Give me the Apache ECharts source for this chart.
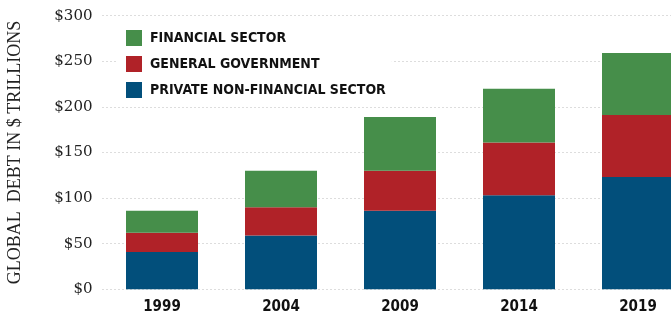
<!DOCTYPE html>
<html>
<head>
<meta charset="utf-8">
<script src="https://cdn.jsdelivr.net/npm/echarts@6/dist/echarts.min.js"></script>
<style>
html,body{margin:0;padding:0;background:#fff;}
#c{width:671px;height:317px;}
</style>
</head>
<body>
<div id="c"></div>
<script>
const years = ['1999', '2004', '2009', '2014', '2019'];
const privateNonFin = [41, 59, 86, 103, 123];
const generalGov = [21, 31, 44, 58, 68];
const financial = [24, 40, 59, 59, 68];
const yTicks = [0, 50, 100, 150, 200, 250, 300];

const condensed = "'DejaVu Sans Condensed', 'Liberation Sans Narrow', sans-serif";
const serif = "'DejaVu Serif', 'Liberation Serif', serif";
const titleSerif = "'Liberation Serif', 'DejaVu Serif', serif";

const chart = echarts.init(document.getElementById('c'), null, {renderer: 'canvas'});
chart.setOption({
  animation: false,
  backgroundColor: '#fff',
  grid: {left: 102.5, top: 15.7, width: 595, height: 273.6, containLabel: false, outerBoundsMode: 'none'},
  legend: {
    orient: 'vertical',
    left: 117, top: 25,
    backgroundColor: '#fff',
    padding: [5, 6, 5, 9],
    itemWidth: 16, itemHeight: 16, itemGap: 10,
    icon: 'rect',
    data: ['FINANCIAL SECTOR', 'GENERAL GOVERNMENT', 'PRIVATE NON-FINANCIAL SECTOR'],
    textStyle: {fontFamily: condensed, fontWeight: 'bold', fontSize: 14, color: '#111', padding: [0, 0, 0, 3]}
  },
  xAxis: {
    type: 'category', data: years,
    axisLine: {show: false}, axisTick: {show: false},
    axisLabel: {fontFamily: condensed, fontWeight: 'bold', fontSize: 15, color: '#111', margin: 10}
  },
  yAxis: {
    type: 'value', min: 0, max: 300, interval: 50,
    name: 'GLOBAL  DEBT IN $ TRILLIONS', nameLocation: 'middle', nameRotate: 90, nameGap: 78,
    nameTextStyle: {fontFamily: titleSerif, fontSize: 18, color: '#222'},
    axisLine: {show: false}, axisTick: {show: false},
    axisLabel: {fontFamily: serif, fontSize: 15, color: '#222', margin: 10, formatter: v => '$' + v},
    splitLine: {show: true, lineStyle: {color: '#bbbbbb', type: [1, 3], width: 1}}
  },
  series: [
    {name: 'PRIVATE NON-FINANCIAL SECTOR', type: 'bar', stack: 'd', data: privateNonFin, barWidth: 72, itemStyle: {color: '#024F7B'}},
    {name: 'GENERAL GOVERNMENT', type: 'bar', stack: 'd', data: generalGov, itemStyle: {color: '#B02228'}},
    {name: 'FINANCIAL SECTOR', type: 'bar', stack: 'd', data: financial, itemStyle: {color: '#468E4A'}}
  ]
});
</script>
</body>
</html>
